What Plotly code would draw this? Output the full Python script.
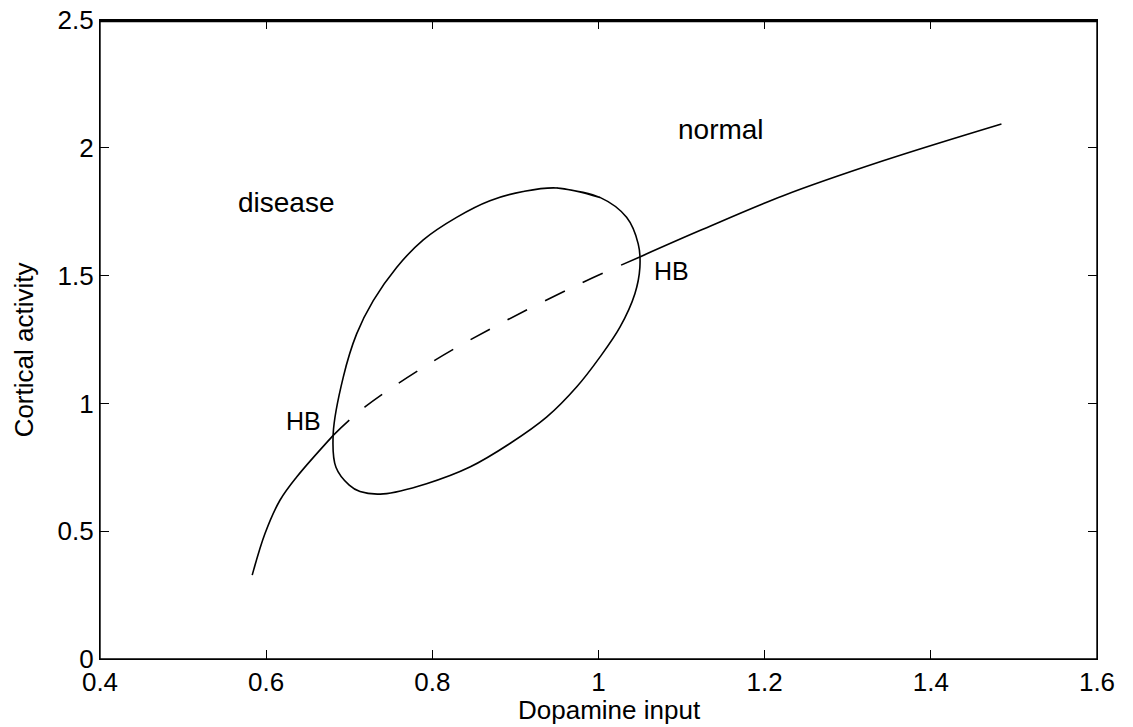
import plotly.graph_objects as go

# Stable (solid) lower branch up to left Hopf bifurcation
lower_x = [0.5832, 0.5986, 0.6166, 0.6367, 0.6807]
lower_y = [0.328, 0.491, 0.621, 0.712, 0.875]

# Unstable (dashed) branch between the two HB points
mid_x = [0.6807, 0.7189, 0.8011, 0.8852, 0.9776, 1.0504]
mid_y = [0.875, 0.986, 1.165, 1.318, 1.468, 1.574]

# Stable (solid) upper branch after right HB point
upper_x = [1.0504, 1.122, 1.2223, 1.3426, 1.485]
upper_y = [1.574, 1.676, 1.8125, 1.949, 2.093]

# Limit-cycle envelope (closed curve), clockwise from the top
cycle_x = [0.9496, 1.0017, 1.0338, 1.0478, 1.0498, 1.0438, 1.0258, 1.0017, 0.9736,
           0.9375, 0.8934, 0.8452, 0.7930, 0.7409, 0.7129, 0.7000, 0.6840, 0.6807,
           0.6928, 0.7089, 0.7289, 0.7570, 0.7891, 0.8292, 0.8693, 0.9094]
cycle_y = [1.843, 1.806, 1.728, 1.624, 1.532, 1.429, 1.298, 1.181, 1.064,
           0.946, 0.843, 0.751, 0.686, 0.646, 0.655, 0.680, 0.750, 0.882,
           1.103, 1.272, 1.402, 1.532, 1.640, 1.728, 1.793, 1.829]

# Text labels
label_text = ["disease", "normal", "HB", "HB"]
label_x = [0.6244, 1.147, 0.6455, 1.088]
label_y = [1.785, 2.073, 0.931, 1.517]
label_size = [28, 28, 25, 25]

x_title = "Dopamine input"
y_title = "Cortical activity"

x_ticks = [0.4, 0.6, 0.8, 1.0, 1.2, 1.4, 1.6]
x_tick_text = ["0.4", "0.6", "0.8", "1", "1.2", "1.4", "1.6"]
y_ticks = [0, 0.5, 1, 1.5, 2, 2.5]
y_tick_text = ["0", "0.5", "1", "1.5", "2", "2.5"]

FONT = "Liberation Sans, Arial, sans-serif"
LW = 1.6

fig = go.Figure()
fig.add_trace(go.Scatter(x=lower_x, y=lower_y, mode="lines",
                         line=dict(color="black", width=LW, shape="spline", smoothing=1.0),
                         hoverinfo="skip"))
fig.add_trace(go.Scatter(x=mid_x, y=mid_y, mode="lines",
                         line=dict(color="black", width=LW, dash="22px,20px", shape="spline", smoothing=1.0),
                         hoverinfo="skip"))
fig.add_trace(go.Scatter(x=upper_x, y=upper_y, mode="lines",
                         line=dict(color="black", width=LW, shape="spline", smoothing=1.0),
                         hoverinfo="skip"))

cx = cycle_x + cycle_x[:2]
cy = cycle_y + cycle_y[:2]
fig.add_trace(go.Scatter(x=cx, y=cy, mode="lines",
                         line=dict(color="black", width=LW, shape="spline", smoothing=1.0),
                         hoverinfo="skip"))

for t, x, y, s in zip(label_text, label_x, label_y, label_size):
    fig.add_annotation(x=x, y=y, text=t, showarrow=False, xanchor="center", yanchor="middle",
                       font=dict(family=FONT, size=s, color="black"))

# Axis titles placed as in the reference
fig.add_annotation(xref="paper", yref="paper", x=0.511, y=0, yshift=-51, text=x_title,
                   showarrow=False, xanchor="center", yanchor="middle",
                   font=dict(family=FONT, size=26, color="black"))
fig.add_annotation(xref="paper", yref="paper", x=0, xshift=-76, y=0.483, text=y_title,
                   textangle=-90, showarrow=False, xanchor="center", yanchor="middle",
                   font=dict(family=FONT, size=26, color="black"))

# Box frame around the plot area
fig.add_shape(type="rect", xref="paper", yref="paper", x0=0, y0=0, x1=1, y1=1,
              line=dict(color="black", width=1.4), layer="above")
# Top edge of the frame, drawn as its own path just inside the plot area
fig.add_shape(type="path", xref="paper", yref="paper",
              path="M 0,0.9985 L 1,0.9985",
              line=dict(color="black", width=2.5), layer="above")

axis_common = dict(
    showgrid=False, zeroline=False, showline=True, linecolor="black", linewidth=1.2,
    mirror="allticks", ticks="inside", ticklen=9, tickwidth=1.2, tickcolor="black",
    tickfont=dict(family=FONT, size=26, color="black"), automargin=False,
    ticklabeloverflow="allow",
)

fig.update_layout(
    width=1133, height=727,
    margin=dict(l=100, r=36, t=20, b=68),
    paper_bgcolor="white", plot_bgcolor="white",
    showlegend=False,
    xaxis=dict(range=[0.4, 1.6], tickvals=x_ticks, ticktext=x_tick_text, **axis_common),
    yaxis=dict(range=[0, 2.5], tickvals=y_ticks, ticktext=y_tick_text, **axis_common),
)

fig.write_html(
    "out.html",
    config={"displayModeBar": False},
    post_script="document.body.style.margin='0';document.body.style.overflow='hidden';"
                "document.documentElement.style.overflow='hidden';",
)
